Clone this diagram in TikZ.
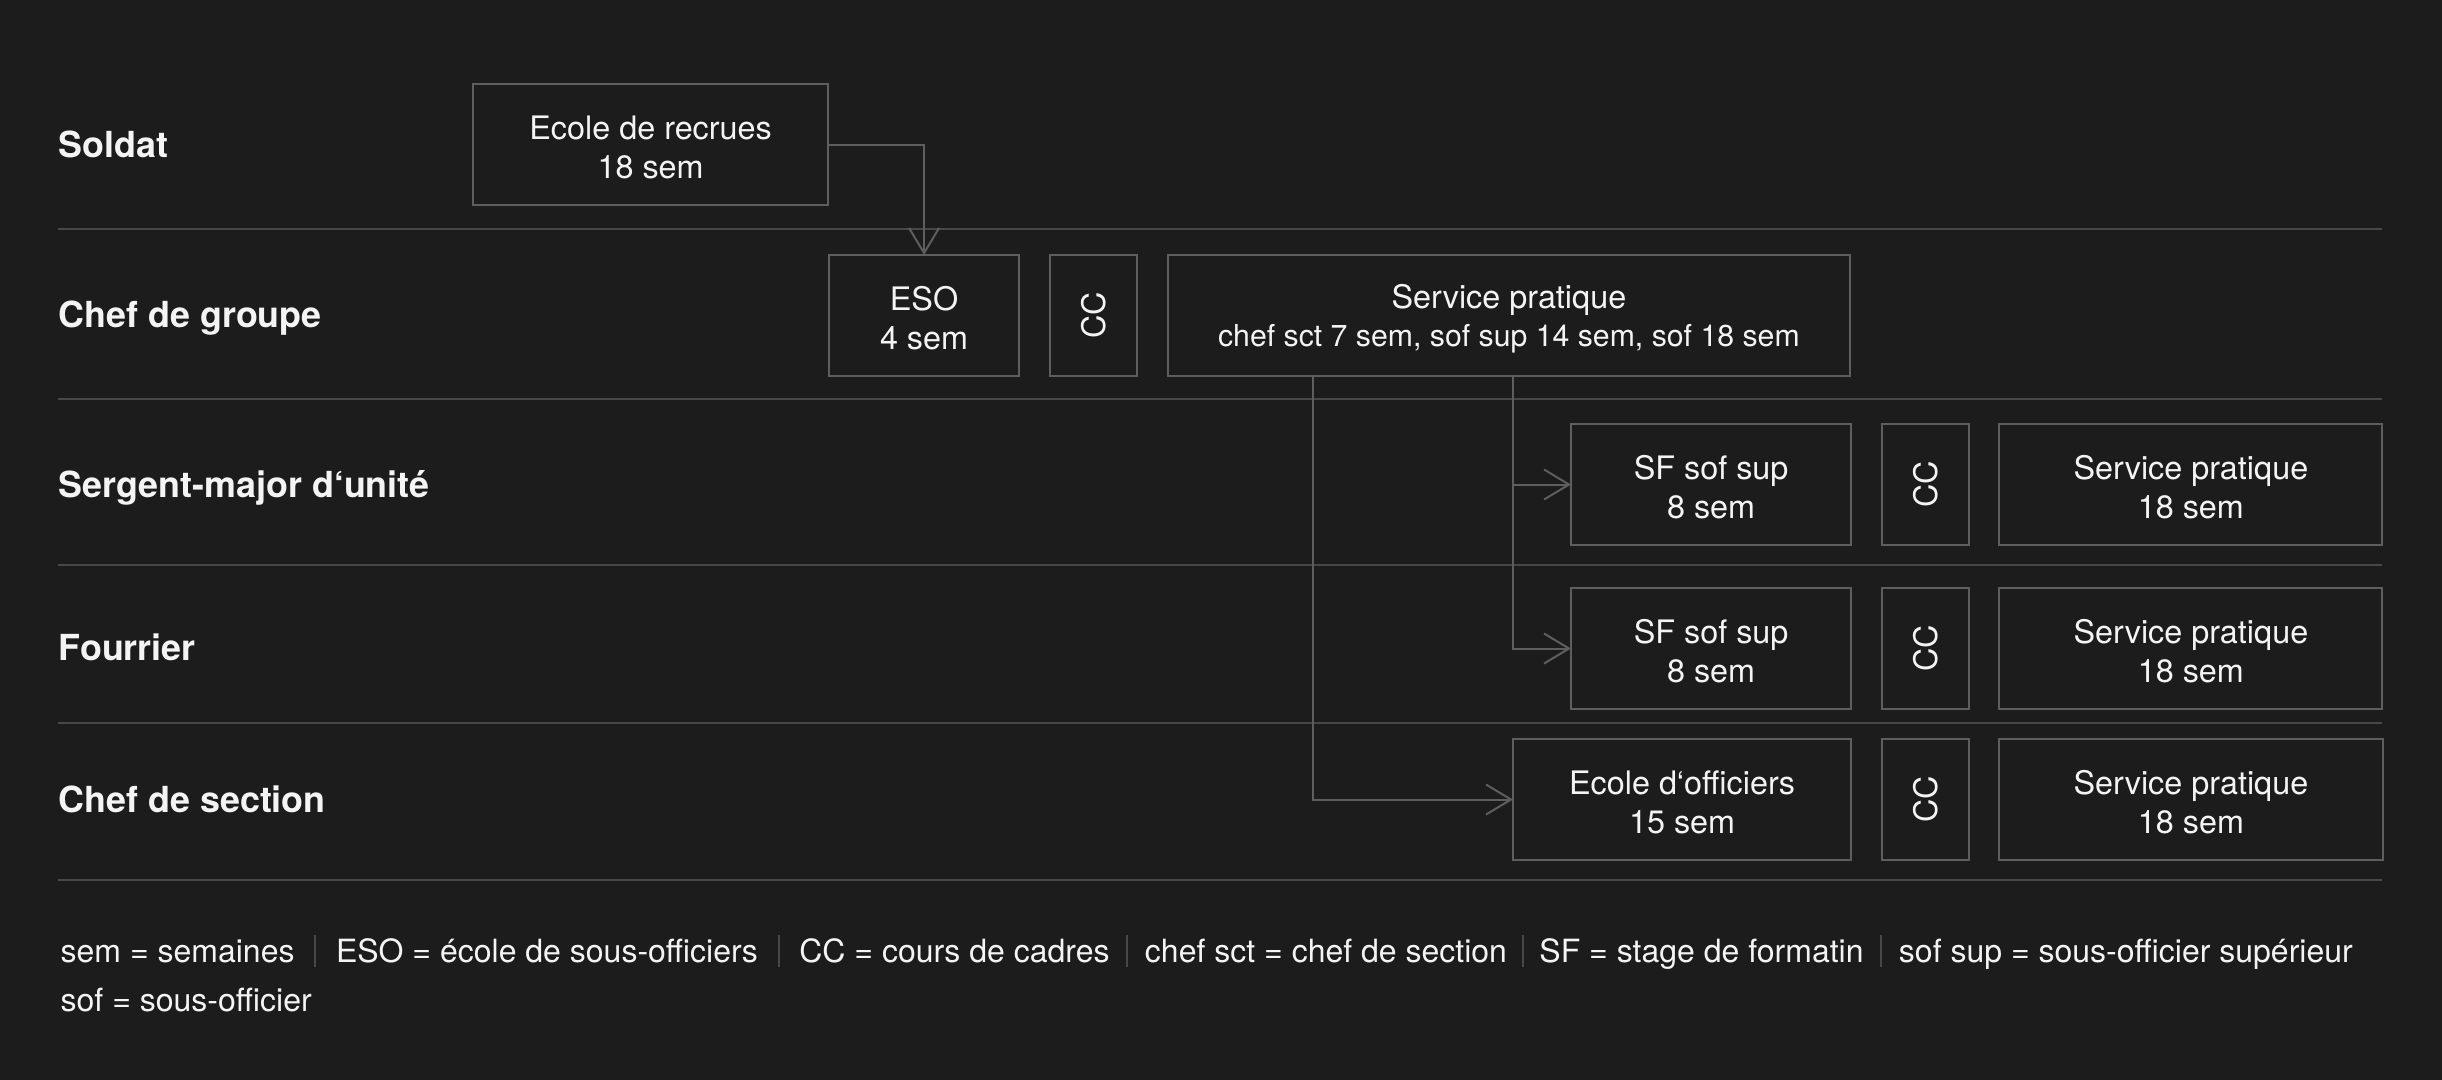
\documentclass[tikz,border=0pt]{standalone}
\usepackage{fontspec}
\usepackage{graphicx}
\setmainfont{TeX Gyre Heros}
\usetikzlibrary{positioning,arrows.meta,calc}
\definecolor{bgdark}{HTML}{1C1C1C}
\definecolor{rulegrey}{HTML}{474747}
\definecolor{boxgrey}{HTML}{5E5E5E}
\definecolor{txtwhite}{HTML}{F4F4F4}

\begin{document}
\begin{tikzpicture}[
        x=0.01cm, y=-0.01cm,
        course/.style={rectangle, draw=boxgrey, line width=0.02cm, anchor=north west, minimum height=1.21cm, inner sep=0pt, outer sep=0pt, align=center, text=txtwhite, font=\fontsize{9.2}{11}\selectfont},
        cadre/.style={course, minimum width=0.87cm},
        rank/.style={anchor=base west, inner sep=0pt, text=txtwhite, font=\bfseries\fontsize{10.2}{12}\selectfont},
        legend/.style={anchor=base west, inner sep=0pt, text=txtwhite, font=\fontsize{9.1}{11}\selectfont},
        sep/.style={draw=rulegrey, line width=0.02cm},
        arrow/.style={-{Straight Barb[length=0.25cm, width=0.3cm]}, draw=boxgrey, line width=0.02cm}
      ]
        \fill[bgdark] (0,0) rectangle (2442,1080);
        \useasboundingbox (0,0) rectangle (2442,1080);

        % Row lines
        \foreach \yy in {229,399,565,723,880}
          \draw[sep] (58,\yy) -- (2382,\yy);

        % Ranks
        \node[rank] (soldat) at (58,158) {Soldat};
        \node[rank] (chefgroupe) at (58,328) {Chef de groupe};
        \node[rank] (sergent) at (58,498) {Sergent-major d‘unité};
        \node[rank] (fourrier) at (58,661) {Fourrier};
        \node[rank] (chefsection) at (58,813) {Chef de section};

        % Soldat
        \node[course, minimum width=3.55cm] (recrues) at (473,84) {\rule{0pt}{1.75ex}Ecole de recrues\\18 sem};

        % Chef de groupe
        \node[course, minimum width=1.90cm] (eso) at (829,255) {\rule{0pt}{1.75ex}ESO\\4 sem};
        \node[cadre, right=0.31cm of eso] (cc1) {\rotatebox{90}{CC}};
        \node[course, minimum width=6.81cm, right=0.31cm of cc1] (pratique1) {\rule{0pt}{1.8ex}Service pratique\\{\fontsize{8.6}{10.5}\selectfont chef sct 7 sem, sof sup 14 sem, sof 18 sem}};

        % Sergent-major
        \node[course, minimum width=2.80cm] (sf1) at (1571,424) {\rule{0pt}{1.75ex}SF sof sup\\8 sem};
        \node[cadre, right=0.31cm of sf1] (cc2) {\rotatebox{90}{CC}};
        \node[course, minimum width=3.83cm, right=0.30cm of cc2] (pratique2) {\rule{0pt}{1.75ex}Service pratique\\18 sem};

        % Fourrier
        \node[course, minimum width=2.80cm] (sf2) at (1571,588) {\rule{0pt}{1.75ex}SF sof sup\\8 sem};
        \node[cadre, right=0.31cm of sf2] (cc3) {\rotatebox{90}{CC}};
        \node[course, minimum width=3.83cm, right=0.30cm of cc3] (pratique3) {\rule{0pt}{1.75ex}Service pratique\\18 sem};

        % Chef de section
        \node[course, minimum width=3.38cm] (officiers) at (1513,739) {\rule{0pt}{1.75ex}Ecole d‘officiers\\15 sem};
        \node[cadre, right=0.31cm of officiers] (cc4) {\rotatebox{90}{CC}};
        \node[course, minimum width=3.83cm, right=0.30cm of cc4] (pratique4) {\rule{0pt}{1.75ex}Service pratique\\18 sem};

        % Arrows
        \coordinate (tapofficier) at (1313,375);
        \coordinate (tapsof) at (officiers.west |- pratique1.south);
        \draw[arrow] (recrues.east) -| (eso.north);
        \draw[arrow] (tapofficier) |- (officiers.west);
        \draw[arrow] (tapsof) |- (sf2.west);
        \draw[arrow] (tapsof |- sf1.west) -- (sf1.west);

        % Legend
        \node[legend] (lgsem) at (60,963) {sem = semaines};
        \node[legend, base right=0.40cm of lgsem] (lgeso) {ESO = école de sous-officiers};
        \node[legend, base right=0.40cm of lgeso] (lgcc) {CC = cours de cadres};
        \node[legend, base right=0.34cm of lgcc] (lgsct) {chef sct = chef de section};
        \node[legend, base right=0.31cm of lgsct] (lgsf) {SF = stage de formatin};
        \node[legend, base right=0.34cm of lgsf] (lgsup) {sof sup = sous-officier supérieur};
        \node[legend] (lgsof) at (60,1012) {sof = sous-officier};
        \foreach \a/\b in {lgsem/lgeso,lgeso/lgcc,lgcc/lgsct,lgsct/lgsf,lgsf/lgsup}
          \draw[sep] ($(\a.base east)!0.5!(\b.base west)+(0,-28)$) -- ++(0,32);
      \end{tikzpicture}
\end{document}
